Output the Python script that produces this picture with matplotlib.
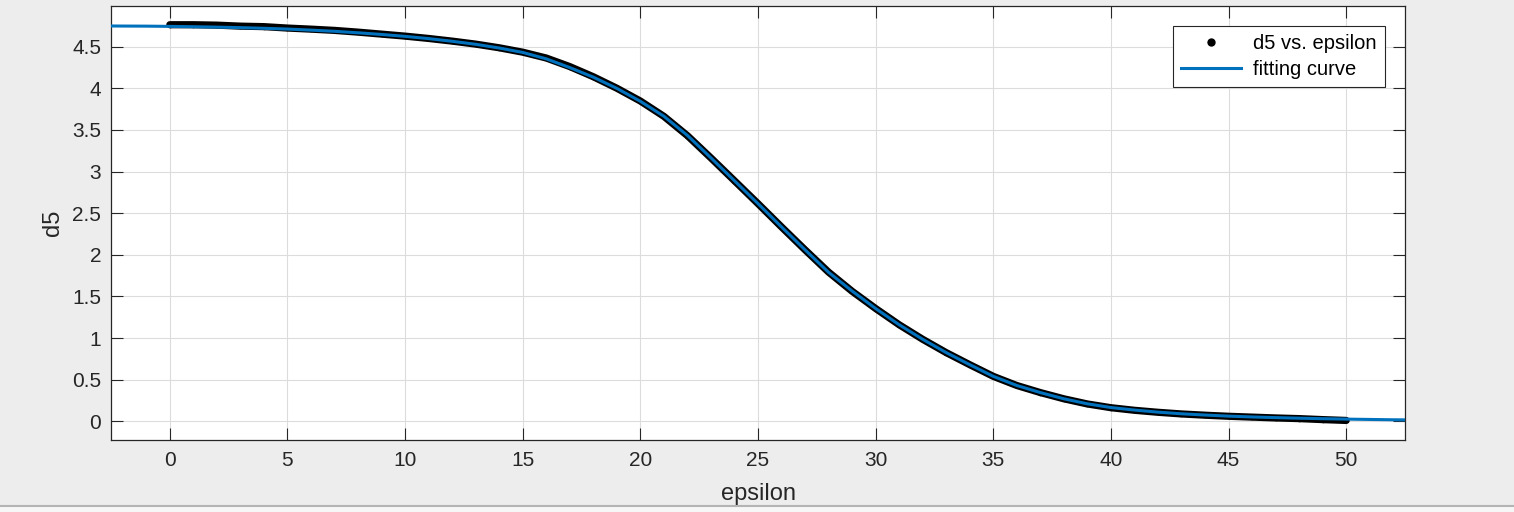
import numpy as np
import matplotlib.pyplot as plt
from matplotlib.lines import Line2D
from matplotlib.patches import Rectangle

# -----------------------------------
# Data
# -----------------------------------
eps_data = list(range(0, 51))
d5_data = [4.765, 4.765, 4.760, 4.748, 4.742, 4.725, 4.712, 4.697, 4.676, 4.652,
           4.628, 4.600, 4.568, 4.532, 4.488, 4.435, 4.365, 4.262, 4.140, 4.002,
           3.848, 3.664, 3.432, 3.164, 2.890, 2.615, 2.335, 2.060, 1.792, 1.562,
           1.355, 1.160, 0.985, 0.825, 0.680, 0.540, 0.430, 0.345, 0.270, 0.208,
           0.163, 0.132, 0.108, 0.088, 0.073, 0.060, 0.050, 0.040, 0.032, 0.020,
           0.010]

eps_fit = [-2.5, -2, -1, 0, 1, 2, 3, 4, 5, 6, 7, 8, 9, 10, 11, 12, 13, 14, 15,
           16, 17, 18, 19, 20, 21, 22, 23, 24, 25, 26, 27, 28, 29, 30, 31, 32,
           33, 34, 35, 36, 37, 38, 39, 40, 41, 42, 43, 44, 45, 46, 47, 48, 49,
           50, 51, 52, 52.5]
d5_fit = [4.750, 4.749, 4.748, 4.745, 4.741, 4.736, 4.730, 4.722, 4.713, 4.700,
          4.686, 4.668, 4.648, 4.625, 4.598, 4.566, 4.530, 4.485, 4.432, 4.355,
          4.250, 4.135, 4.000, 3.845, 3.665, 3.435, 3.165, 2.890, 2.615, 2.335,
          2.060, 1.790, 1.565, 1.355, 1.160, 0.985, 0.825, 0.680, 0.540, 0.430,
          0.345, 0.270, 0.210, 0.165, 0.135, 0.110, 0.090, 0.075, 0.062, 0.052,
          0.044, 0.037, 0.031, 0.026, 0.022, 0.018, 0.017]

x_ticks = [0, 5, 10, 15, 20, 25, 30, 35, 40, 45, 50]
y_ticks = [0, 0.5, 1, 1.5, 2, 2.5, 3, 3.5, 4, 4.5]

# -----------------------------------
# Style
# -----------------------------------
plt.rcParams['font.family'] = ['Liberation Sans', 'DejaVu Sans']
TEXT_COLOR = "#262626"
BLUE = "#0072BD"

fig = plt.figure(figsize=(15.14, 5.12), dpi=100, facecolor="#ededed")
ax = fig.add_axes([111 / 1514, 1 - 440 / 512, 1294 / 1514, 434 / 512])

# -----------------------------------
# Plot
# -----------------------------------
ax.plot(eps_data, d5_data, color="black", linewidth=5.2, solid_capstyle="round",
        zorder=2)
ax.plot(eps_data, d5_data, linestyle="none", marker=".", markersize=8,
        markeredgewidth=0, color="black", label="d5 vs. epsilon", zorder=2)
ax.plot(eps_fit, d5_fit, color=BLUE, linewidth=2.2, label="fitting curve",
        zorder=3)

ax.set_xlim(-2.5, 52.5)
ax.set_ylim(-0.225, 4.99)
ax.set_xticks(x_ticks)
ax.set_yticks(y_ticks)
ax.set_yticklabels([f"{v:g}" for v in y_ticks])

ax.grid(True, color="#dcdcdc", linewidth=0.8)
ax.set_axisbelow(True)

ax.tick_params(direction="in", length=8.5, width=0.8, top=True, right=True,
               labelsize=15, colors=TEXT_COLOR)
ax.tick_params(axis="x", pad=8)
ax.tick_params(axis="y", pad=7)
for spine in ax.spines.values():
    spine.set_color(TEXT_COLOR)
    spine.set_linewidth(0.9)

ax.set_xlabel("epsilon", fontsize=17, color=TEXT_COLOR, labelpad=9)
ax.set_ylabel("d5", fontsize=17, color=TEXT_COLOR, labelpad=6)

leg = ax.legend(loc="upper right", fontsize=14.5, frameon=True, fancybox=False,
                framealpha=1, edgecolor=TEXT_COLOR, handlelength=3,
                borderaxespad=1.0, borderpad=0.4, labelspacing=0.35,
                handletextpad=0.6)
leg.get_frame().set_linewidth(0.8)
leg.legend_handles[0].set_markersize(12)

# bottom strip of the window
fig.patches.append(Rectangle((0, 0), 1, 6 / 512, transform=fig.transFigure,
                             facecolor="#f7f7f7", edgecolor="none"))
fig.add_artist(Line2D([0, 1], [6 / 512, 6 / 512], transform=fig.transFigure,
                      color="#b4b4b4", linewidth=1.5))

fig.savefig("out.png", dpi=100, facecolor=fig.get_facecolor())
